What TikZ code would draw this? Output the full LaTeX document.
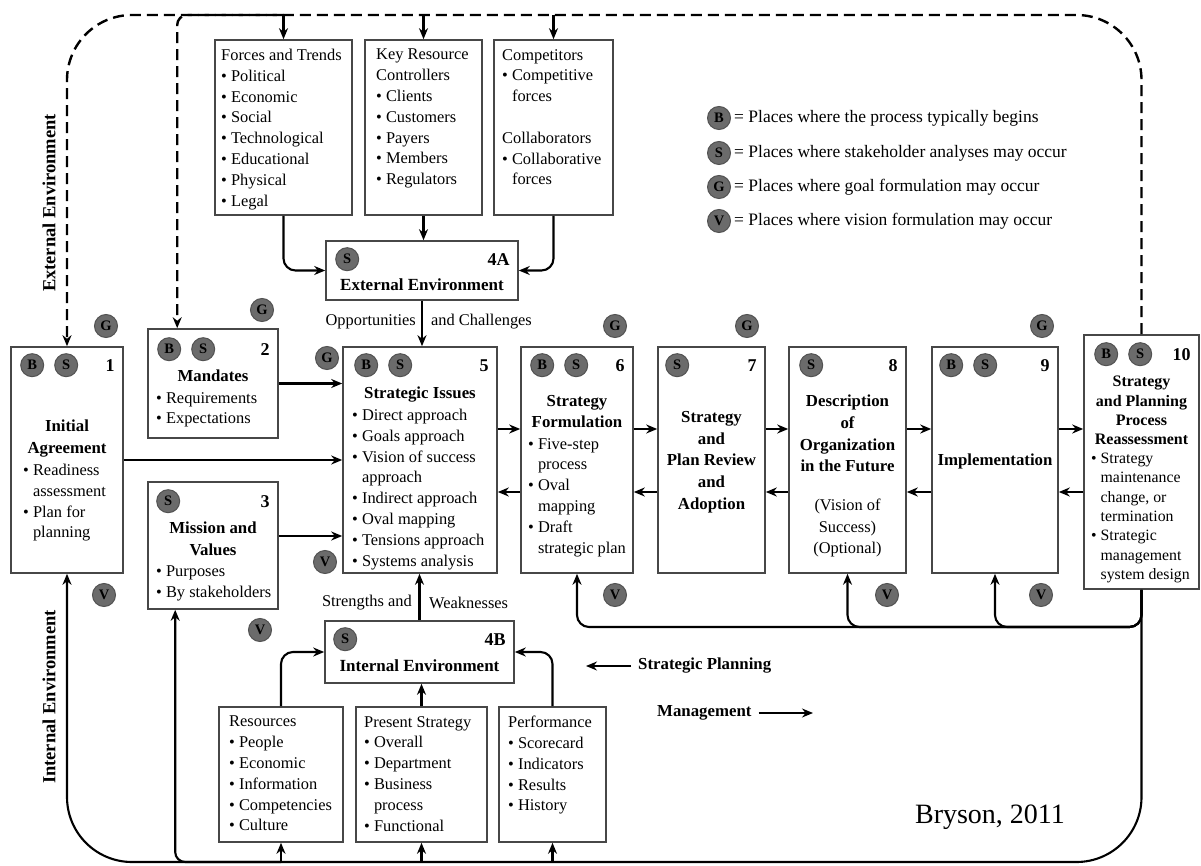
\documentclass[tikz,border=0pt]{standalone}
\usepackage{fontspec}
\setmainfont{Liberation Serif}
\usetikzlibrary{arrows.meta,calc}
\newcommand{\itm}{\textbullet~}
\newcommand{\cont}{\hphantom{\textbullet~}}
\tikzset{
  box/.style={draw=black!72, line width=1.6pt, inner sep=0pt},
  tag/.style={circle, fill=black!58, draw=black!68, line width=1pt, minimum size=23pt, inner sep=0pt, font=\fontsize{14.5}{14}\selectfont\bfseries},
  num/.style={anchor=east, inner sep=0pt, font=\fontsize{18}{18}\selectfont\bfseries},
  ttl/.style={anchor=north, inner sep=0pt, align=center, font=\fontsize{16.8}{21.5}\selectfont\bfseries},
  lst/.style={anchor=north west, inner sep=0pt, align=left, font=\fontsize{16.4}{20.8}\selectfont},
  txt/.style={inner sep=0pt, font=\fontsize{16.4}{20}\selectfont},
  conn/.style={line width=2.1pt, -{Stealth[length=11pt,width=9pt]}},
  loopline/.style={line width=2.4pt, dash pattern=on 11pt off 6pt, -{Stealth[length=11pt,width=9pt]}}
}
\begin{document}
\begin{tikzpicture}[x=1pt,y=-1pt]
\useasboundingbox (0,0) rectangle (1201,866);

\node[box, minimum width=137pt, minimum height=175pt] (forces) at (283.5,127.5) {};
\node[box, minimum width=117pt, minimum height=175pt] (krc) at (423.5,127.5) {};
\node[box, minimum width=119pt, minimum height=175pt] (comp) at (553.5,127.5) {};
\node[box, minimum width=192pt, minimum height=59pt] (ea) at (422,270.5) {};
\node[box, minimum width=112pt, minimum height=226pt] (f1) at (67,460) {};
\node[box, minimum width=130pt, minimum height=109pt] (f2) at (213,383.5) {};
\node[box, minimum width=130pt, minimum height=127pt] (f3) at (213,545.5) {};
\node[box, minimum width=154pt, minimum height=226pt] (f5) at (420,460) {};
\node[box, minimum width=112pt, minimum height=226pt] (f6) at (577,460) {};
\node[box, minimum width=107pt, minimum height=226pt] (f7) at (711.5,460) {};
\node[box, minimum width=117pt, minimum height=226pt] (f8) at (847.5,460) {};
\node[box, minimum width=126pt, minimum height=226pt] (f9) at (995,460) {};
\node[box, minimum width=115pt, minimum height=254pt] (f10) at (1141.5,462) {};
\node[box, minimum width=189pt, minimum height=62pt] (ib) at (419.5,652) {};
\node[box, minimum width=124pt, minimum height=135pt] (res) at (281,774.5) {};
\node[box, minimum width=131pt, minimum height=135pt] (pres) at (421.5,774.5) {};
\node[box, minimum width=107pt, minimum height=135pt] (perf) at (552.5,774.5) {};

\node[lst] (forces-t) at (221,49) {Forces and Trends\\\itm Political\\\itm Economic\\\itm Social\\\itm Technological\\\itm Educational\\\itm Physical\\\itm Legal};
\node[lst] (krc-t) at (376,49) {Key Resource\\Controllers\\\itm Clients\\\itm Customers\\\itm Payers\\\itm Members\\\itm Regulators};
\node[lst] (comp-t) at (502,49) {Competitors\\\itm Competitive\\\cont forces\\[20.8pt]Collaborators\\\itm Collaborative\\\cont forces};
\node[txt, font=\fontsize{17}{20}\selectfont\bfseries] (ea-t) at (422,285) {External Environment};
\node[ttl] (f1-t) at (67,420) {Initial\\Agreement};
\node[lst] (f1-l) at (23,464) {\itm Readiness\\\cont assessment\\\itm Plan for\\\cont planning};
\node[ttl] (f2-t) at (213,370) {Mandates};
\node[lst] (f2-l) at (156,392) {\itm Requirements\\\itm Expectations};
\node[ttl] (f3-t) at (213,522) {Mission and\\Values};
\node[lst] (f3-l) at (156,566) {\itm Purposes\\\itm By stakeholders};
\node[ttl] (f5-t) at (420,387) {Strategic Issues};
\node[lst] (f5-l) at (352,409) {\itm Direct approach\\\itm Goals approach\\\itm Vision of success\\\cont approach\\\itm Indirect approach\\\itm Oval mapping\\\itm Tensions approach\\\itm Systems analysis};
\node[ttl] (f6-t) at (577,395) {Strategy\\Formulation};
\node[lst] (f6-l) at (528,438) {\itm Five-step\\\cont process\\\itm Oval\\\cont mapping\\\itm Draft\\\cont strategic plan};
\node[ttl, font=\fontsize{16.8}{21.7}\selectfont\bfseries] (f7-t) at (711.5,411) {Strategy\\and\\Plan Review\\and\\Adoption};
\node[ttl, font=\fontsize{16.8}{21.7}\selectfont\bfseries] (f8-t) at (847.5,395) {Description\\of\\Organization\\in the Future};
\node[ttl, font=\fontsize{16.4}{21.5}\selectfont] (f8-l) at (847.5,499) {(Vision of\\Success)\\(Optional)};
\node[txt, font=\fontsize{16.8}{20}\selectfont\bfseries] (f9-t) at (995,461) {Implementation};
\node[ttl, font=\fontsize{16}{19.3}\selectfont\bfseries] (f10-t) at (1141.5,376) {Strategy\\and Planning\\Process\\Reassessment};
\node[lst, font=\fontsize{15.8}{19.3}\selectfont] (f10-l) at (1091,453) {\itm Strategy\\\cont maintenance\\\cont change, or\\\cont termination\\\itm Strategic\\\cont management\\\cont system design};
\node[txt, font=\fontsize{17}{20}\selectfont\bfseries] (ib-t) at (419.5,666) {Internal Environment};
\node[lst] (res-t) at (229,716) {Resources\\\itm People\\\itm Economic\\\itm Information\\\itm Competencies\\\itm Culture};
\node[lst] (pres-t) at (364,716) {Present Strategy\\\itm Overall\\\itm Department\\\itm Business\\\cont process\\\itm Functional};
\node[lst] (perf-t) at (508,716) {Performance\\\itm Scorecard\\\itm Indicators\\\itm Results\\\itm History};

\foreach \b/\dx/\dy in {f1/22/19, f2/22/21, f5/24/19, f6/22/19, f9/20/19, f10/23/20} {
  \node[tag] (\b-B) at ([xshift=\dx pt, yshift=-\dy pt]\b.north west) {B};
  \node[tag] (\b-S) at ([xshift=34pt]\b-B) {S};
}
\foreach \b/\dx/\dy in {f3/21/20, f7/20/19, f8/23/19, ea/22/19, ib/21/19}
  \node[tag] (\b-S) at ([xshift=\dx pt, yshift=-\dy pt]\b.north west) {S};
\foreach \b/\n/\dy in {f1/1/19, f2/2/21, f3/3/20, f5/5/19, f6/6/19, f7/7/19, f8/8/19, f9/9/19, f10/10/20, ea/4A/19, ib/4B/19}
  \node[num] (\b-n) at ([xshift=-9pt, yshift=-\dy pt]\b.north east) {\n};
\foreach \x/\y [count=\i] in {106/326, 262/310, 327/358, 615/326, 747/326, 1042/326}
  \node[tag] (g\i) at (\x,\y) {G};
\foreach \x/\y [count=\i] in {104/595, 260/630, 325/562, 615/595, 887/595, 1041/595}
  \node[tag] (v\i) at (\x,\y) {V};

\foreach \l/\t/\y in {B/the process typically begins/118, S/stakeholder analyses may occur/153, G/goal formulation may occur/187, V/vision formulation may occur/221} {
  \node[tag] (key\l) at (719,\y) {\l};
  \node[txt, anchor=west, font=\fontsize{17.5}{20}\selectfont] (key\l-t) at (734,\y) {= Places where \t};
}

\coordinate (top) at (0,15);
\coordinate (bot) at (0,862);
\coordinate (mid) at (0,627);
\coordinate (f2in) at ([xshift=30pt]f2.north west);
\coordinate (f3in) at ([xshift=28pt]f3.south west);

\draw[loopline, rounded corners=65pt] (f10.north) -- (f10.north |- top) -- (f1.north |- top) -- (f1.north);
\draw[loopline, rounded corners=10pt] (forces.north |- top) -- (f2in |- top) -- (f2in);
\foreach \b in {forces, krc, comp}
  \draw[conn] (\b.north |- top) -- (\b.north);
\draw[conn, rounded corners=12pt] (forces.south) |- (ea.west);
\draw[conn] (krc.south) -- (krc.south |- ea.north);
\draw[conn, rounded corners=12pt] (comp.south) |- (ea.east);
\draw[conn] (ea.south) -- (ea.south |- f5.north);
\node[txt, anchor=east] (opp) at (416,322) {Opportunities};
\node[txt, anchor=west] (chal) at (431,322) {and Challenges};

\draw[conn] (f2.east) -- (f2.east -| f5.west);
\draw[conn] (f1.east) -- (f1.east -| f5.west);
\draw[conn] ([yshift=9.5pt]f3.east) -- ([yshift=9.5pt]f3.east -| f5.west);
\foreach \a/\b in {f5/f6, f6/f7, f7/f8, f8/f9, f9/f10} {
  \draw[conn] ([yshift=31pt]\a.east) -- ([yshift=31pt]\a.east -| \b.west);
  \draw[conn] ([yshift=-32pt]\a.east -| \b.west) -- ([yshift=-32pt]\a.east);
}

\draw[conn, rounded corners=65pt] (f10.south) -- (f10.south |- bot) -- (f1.south |- bot) -- (f1.south);
\foreach \b in {res, pres, perf}
  \draw[conn] (\b.south |- bot) -- (\b.south);
\draw[conn, rounded corners=10pt] (res.south |- bot) -- (f3in |- bot) -- (f3in);
\foreach \b in {f6, f8, f9}
  \draw[conn, rounded corners=12pt] (f10.south) -- (f10.south |- mid) -- (\b.south |- mid) -- (\b.south);

\draw[conn, rounded corners=12pt] (res.north) |- (ib.west);
\draw[conn] (pres.north) -- (pres.north |- ib.south);
\draw[conn, rounded corners=12pt] (perf.north) |- (ib.east);
\draw[conn] (ib.north) -- (ib.north |- f5.south);
\node[txt, anchor=east] (str) at (412,603) {Strengths and};
\node[txt, anchor=west] (weak) at (429,603) {Weaknesses};

\node[txt, anchor=west, font=\fontsize{16.8}{20}\selectfont\bfseries] (plan) at (638,666) {Strategic Planning};
\coordinate (plan-end) at (586,666);
\draw[conn, line width=1.4pt] ([xshift=-7pt]plan.west) -- (plan-end);
\node[txt, anchor=west, font=\fontsize{16.8}{20}\selectfont\bfseries] (mgmt) at (657,713) {Management};
\coordinate (mgmt-end) at (813,713);
\draw[conn, line width=1.4pt] ([xshift=7pt]mgmt.east) -- (mgmt-end);

\node[rotate=90, inner sep=0pt, font=\fontsize{18.5}{20}\selectfont\bfseries] (ext) at (49,203) {External Environment};
\node[rotate=90, inner sep=0pt, font=\fontsize{18.5}{20}\selectfont\bfseries] (int) at (49,697) {Internal Environment};
\node[inner sep=0pt, font=\fontsize{28}{30}\selectfont] (cite) at (990,817) {Bryson, 2011};
\end{tikzpicture}
\end{document}
